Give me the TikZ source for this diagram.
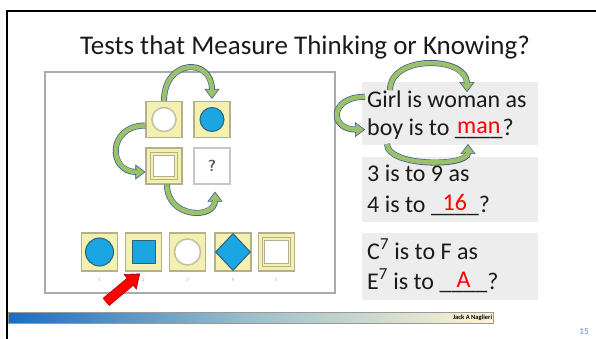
\documentclass[tikz,border=0pt]{standalone}
\usepackage{fontspec}
\setmainfont{Carlito}
\usetikzlibrary{arrows.meta,shapes.geometric}

\definecolor{tileyellow}{HTML}{F3F0B2}
\definecolor{tileedge}{HTML}{B3B08A}
\definecolor{shapeblue}{HTML}{1BA5E3}
\definecolor{shapeedge}{HTML}{2B6574}
\definecolor{arrowgreen}{HTML}{9DC06B}
\definecolor{arrowedge}{HTML}{3B5E8E}
\definecolor{boxgray}{HTML}{EDEDED}
\definecolor{inktext}{HTML}{1A1A1A}
\definecolor{pagenum}{HTML}{5E8CC0}
\definecolor{barblue}{HTML}{1D6DBD}
\definecolor{barmid}{HTML}{9CBFCB}
\definecolor{barcream}{HTML}{FFF4D2}

\newlength\blankwd
% red answer written over the blank
\newcommand\redfill[1]{\settowidth\blankwd{\_\_\_\_}%
  \rlap{\hbox to\blankwd{\hss\color{red}\raisebox{2pt}{#1}\hss}}\_\_\_\_}

\begin{document}
\begin{tikzpicture}[x=1pt,y=-1pt,
    tile/.style={draw=tileedge, line width=1.2pt, fill=tileyellow, minimum width=36pt, minimum height=36pt, inner sep=0pt},
    qtile/.style={draw=black!22, line width=1.2pt, fill=white, minimum width=36pt, minimum height=36pt, inner sep=0pt, text=black!65, font=\sffamily\bfseries\fontsize{16}{16}\selectfont},
    bluedot/.style={circle, fill=shapeblue, draw=shapeedge, line width=1pt, inner sep=0pt},
    whitedot/.style={circle, fill=white, draw=tileedge!80, line width=1.5pt, inner sep=0pt},
    framesq/.style={rectangle, fill=white, draw=tileedge, line width=0.8pt, double=tileyellow, double distance=1.6pt, minimum size=24pt, inner sep=0pt},
    numlbl/.style={text=black!35, font=\fontsize{5}{5}\selectfont, inner sep=6pt},
    qbox/.style={fill=boxgray, minimum width=176pt, inner sep=0pt},
    qtext/.style={anchor=base west, inner sep=0pt, text=inktext, font=\fontsize{24}{28}\selectfont},
    garrow/.style={preaction={draw=arrowedge, line width=0.6pt, shorten >=0pt, -{Triangle[length=10pt,width=15pt,fill=arrowgreen]}},
        draw=arrowedge, line width=6pt, shorten >=9pt,
        postaction={draw=arrowgreen, line width=4.6pt, shorten >=8.4pt}},
    rarrow/.style={preaction={draw=red!55!black, line width=0.6pt, shorten >=0pt, -{Triangle[length=13pt,width=20pt,fill=red]}},
        draw=red!55!black, line width=10pt, shorten >=12pt,
        postaction={draw=red, line width=8.8pt, shorten >=11.4pt}}]

    \useasboundingbox (0,0) rectangle (596,339);
    % slide frame
    \draw[line width=2pt] (7,339) -- (7,11) -- (596,11);
    \node[font=\fontsize{27}{31}\selectfont, text=inktext] (title) at (305,47) {Tests that Measure Thinking or Knowing?};

    % puzzle picture
    \node[draw=black!33, line width=2pt, minimum width=290pt, minimum height=221pt] (puzzle) at (190,182.5) {};
    \node[tile] (m1) at (164,119.5) {};
    \node[tile] (m2) at (212,119.5) {};
    \node[tile] (m3) at (164,166) {};
    \node[qtile] (m4) at (212,166) {?};
    \node[whitedot, minimum size=24pt] at (m1) {};
    \node[bluedot, minimum size=24pt] at (m2) {};
    \node[framesq] at (m3) {};

    % answer choices
    \node[tile, minimum height=38pt, label={[numlbl]below:1}] (a1) at (99.5,252) {};
    \node[tile, minimum height=38pt, label={[numlbl]below:2}] (a2) at (143.5,252) {};
    \node[tile, minimum height=38pt, label={[numlbl]below:3}] (a3) at (187.5,252) {};
    \node[tile, minimum height=38pt, label={[numlbl]below:4}] (a4) at (233,252) {};
    \node[tile, minimum height=38pt, label={[numlbl]below:5}] (a5) at (276.5,252) {};
    \node[bluedot, minimum size=28pt] at (a1) {};
    \node[rectangle, fill=shapeblue, draw=shapeedge, line width=1pt, minimum size=23pt, inner sep=0pt] at (a2) {};
    \node[whitedot, minimum size=26pt] at (a3) {};
    \node[diamond, fill=shapeblue, draw=shapeedge, line width=1pt, minimum width=35pt, minimum height=37pt, inner sep=0pt] at (a4) {};
    \node[framesq, minimum size=26pt] at (a5) {};

    % analogies
    \node[qbox, minimum height=63pt] (qbox1) at (450,113.5) {};
    \node[qbox, minimum height=65pt] (qbox2) at (450,189.5) {};
    \node[qbox, minimum height=67pt] (qbox3) at (450,266.5) {};
    \node[qtext] (l1) at (367,108) {Girl is woman as};
    \node[qtext] (l2) at (367,136) {boy is to \redfill{man}?};
    \node[qtext] (l3) at (367,182) {3 is to 9 as};
    \node[qtext] (l4) at (367,212) {4 is to \redfill{16}?};
    \node[qtext] (l5) at (367,259) {C\textsuperscript{7} is to F as};
    \node[qtext] (l6) at (367,289) {E\textsuperscript{7} is to \redfill{A}?};

    % footer
    \node[draw=black!40, line width=0.6pt, left color=barblue, right color=barcream, middle color=barmid, minimum width=485pt, minimum height=11pt, inner sep=0pt] (footer) at (250.5,317.5) {};
    \node[anchor=east, inner sep=1pt, font=\bfseries\fontsize{6.5}{6.5}\selectfont] (author) at (footer.east) {Jack A Naglieri};
    \node[text=pagenum, font=\fontsize{9}{9}\selectfont] (pnum) at (584,332) {15};

    % curved arrows
    \draw[garrow] (m1.north) .. controls +(0,-42) and +(0,-42) .. ([yshift=2pt]m2.north);
    \draw[garrow] ([yshift=-6pt]m1.west) .. controls +(-38,0) and +(-38,0) .. ([yshift=-6pt]m3.west);
    \draw[garrow] ([xshift=3pt]m3.south) .. controls +(0,34) and +(0,28) .. ([xshift=3pt,yshift=-7pt]m4.south);
    \draw[garrow] ([xshift=23pt,yshift=1pt]l1.north west) .. controls +(0,-36) and +(0,-36) .. ([xshift=100pt,yshift=-1pt]l1.north west);
    \draw[garrow] ([xshift=-2pt,yshift=3pt]l1.west) .. controls +(-36,0) and +(-36,0) .. ([xshift=-2pt]l2.west);
    \draw[garrow] ([xshift=20pt,yshift=-8pt]l2.base west) .. controls +(0,23) and +(0,23) .. ([xshift=101pt,yshift=-8pt]l2.base west);
    \coordinate (redtail) at (106,302);
    \draw[rarrow] (redtail) -- ([xshift=-3.5pt,yshift=-2pt]a2.south);
\end{tikzpicture}
\end{document}
